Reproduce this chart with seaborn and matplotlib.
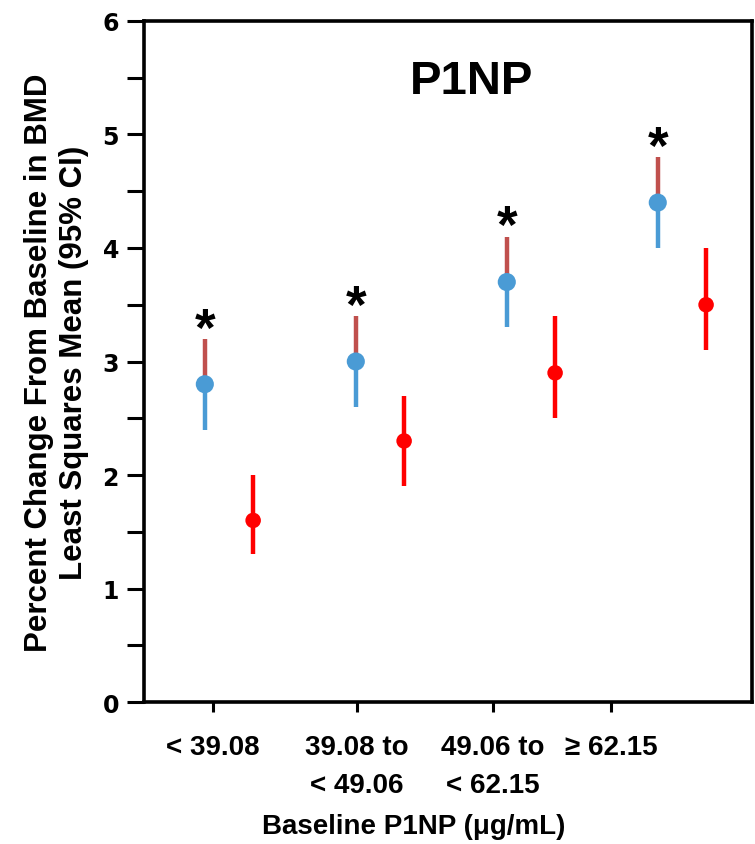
import numpy as np
import pandas as pd
import matplotlib
matplotlib.use("Agg")
import matplotlib.pyplot as plt
import seaborn as sns

categories = ["< 39.08", "39.08 to\n< 49.06", "49.06 to\n< 62.15", "\u2265 62.15"]
blue_mean = [2.8, 3.0, 3.7, 4.4]
blue_lo = [2.4, 2.6, 3.3, 4.0]
blue_hi = [3.2, 3.4, 4.1, 4.8]
red_mean = [1.6, 2.3, 2.9, 3.5]
red_lo = [1.3, 1.9, 2.5, 3.1]
red_hi = [2.0, 2.7, 3.4, 4.0]
significant = [True, True, True, True]
y_ticks = [0, 1, 2, 3, 4, 5, 6]

sns.set_theme(style="white")
plt.rcParams['font.family'] = ['Liberation Sans', 'DejaVu Sans']
plt.rcParams['font.weight'] = 'bold'
for k in ['text.color', 'axes.labelcolor', 'xtick.color', 'ytick.color']:
    plt.rcParams[k] = 'black'

BLUE = "#4A9BD5"
BLUE_UP = "#C0504D"
RED = "#FF0000"

fig = plt.figure(figsize=(7.55, 8.45), dpi=100)
ax = fig.add_axes([0.1907, 0.168, 0.8053, 0.806])

pos = np.arange(len(categories))
dodge = 0.16
bx = pos - dodge
rx = pos + dodge

df = pd.DataFrame({
    "x": np.concatenate([bx, rx]),
    "y": blue_mean + red_mean,
    "grp": ["A"] * 4 + ["B"] * 4,
})

# error bars
ax.vlines(bx, blue_lo, blue_mean, color=BLUE, lw=3.2, zorder=2)
ax.vlines(bx, blue_mean, blue_hi, color=BLUE_UP, lw=3.2, zorder=2)
ax.vlines(rx, red_lo, red_hi, color=RED, lw=3.2, zorder=2)

sns.scatterplot(data=df, x="x", y="y", hue="grp", palette={"A": BLUE, "B": RED},
                size="grp", sizes={"A": 170, "B": 125},
                edgecolor="none", legend=False, ax=ax, zorder=3)

for x, hi, sig in zip(bx, blue_hi, significant):
    if sig:
        ax.annotate("*", (x, hi), xytext=(0, 6), textcoords="offset points",
                    ha="center", va="center", fontsize=38, fontweight="bold", color="black")

ax.set_xlim(-0.563, 3.464)
ax.set_ylim(0, 6)
ax.set_yticks(y_ticks)
ax.set_yticks(np.arange(0.5, 6, 1.0), minor=True)
ax.set_yticklabels([str(t) for t in y_ticks], fontsize=17, fontweight="bold",
                   family=['DejaVu Sans'])

tick_pos = pos + np.array([-0.106, -0.152, -0.252, -0.47])
ax.set_xticks(tick_pos)
ax.set_xticklabels(categories, fontsize=20, fontweight="bold", linespacing=1.6, va="top")

ax.tick_params(axis="y", which="both", direction="out", length=12, width=2.2, pad=6,
               left=True, colors="black")
ax.tick_params(axis="x", which="both", direction="out", length=7, width=2.2, pad=16,
               bottom=True, colors="black")

for s in ax.spines.values():
    s.set_linewidth(2.6)
    s.set_color("black")
    s.set_visible(True)

ax.set_xlabel("Baseline P1NP (\u03bcg/mL)", fontsize=20, fontweight="bold")
ax.xaxis.set_label_coords(0.444, -0.182)
ax.xaxis.label.set_va("center")
ax.set_ylabel("Percent Change From Baseline in BMD\nLeast Squares Mean (95% CI)",
              fontsize=22.5, fontweight="bold", labelpad=10, linespacing=1.2)
ax.text(0.538, 0.912, "P1NP", transform=ax.transAxes, ha="center", va="center",
        fontsize=34, fontweight="bold")

fig.savefig("out.png", dpi=100)
